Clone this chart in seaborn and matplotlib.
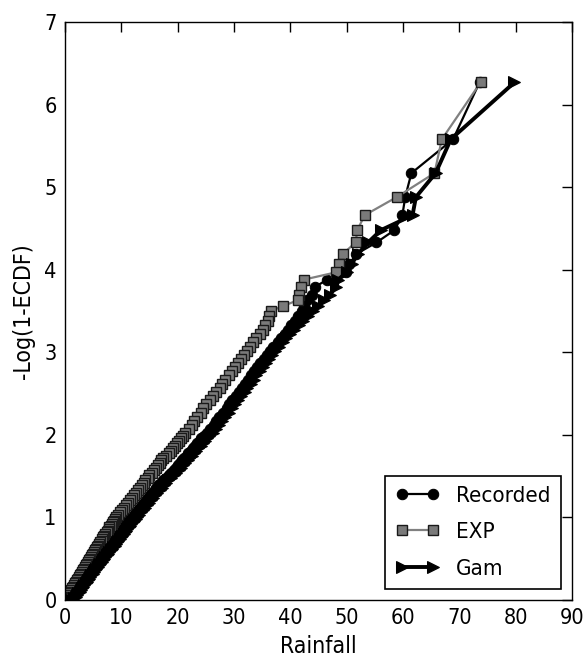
import matplotlib
matplotlib.use("Agg")
import matplotlib.pyplot as plt
import seaborn as sns
import pandas as pd

# ---- data (y = -log(1-ECDF), x = rainfall) ----
Y_LEVELS = [
    # upper tail
    6.27, 5.58, 5.17, 4.88, 4.66, 4.48, 4.33, 4.19, 4.07, 3.97,
    3.88, 3.79, 3.70, 3.63, 3.56, 3.50, 3.44, 3.38, 3.33, 3.27,
    # middle
    3.22, 3.17, 3.12, 3.07, 3.02, 2.97, 2.92, 2.87, 2.82, 2.77,
    2.72, 2.67, 2.62, 2.57, 2.52, 2.47, 2.42, 2.37, 2.32, 2.27,
    2.22, 2.17, 2.12, 2.07, 2.02,
    1.99, 1.96, 1.93, 1.90, 1.87, 1.84, 1.81, 1.78, 1.75, 1.72,
    1.69, 1.66, 1.63, 1.60, 1.57, 1.54, 1.51, 1.48, 1.45, 1.42,
    1.39, 1.36, 1.33, 1.30, 1.27, 1.24, 1.21, 1.18, 1.15, 1.12,
    1.09, 1.06, 1.03, 1.00,
    # dense lower part
    0.98, 0.96, 0.94, 0.92, 0.90, 0.88, 0.86, 0.84, 0.82, 0.80,
    0.78, 0.76, 0.74, 0.72, 0.70, 0.68, 0.66, 0.64, 0.62, 0.60,
    0.58, 0.56, 0.54, 0.52, 0.50, 0.48, 0.46, 0.44, 0.42, 0.40,
    0.38, 0.36, 0.34, 0.32, 0.30, 0.28, 0.26, 0.24, 0.22, 0.20,
    0.18, 0.16, 0.14, 0.12, 0.10, 0.08, 0.06, 0.04, 0.02, 0.00]

RECORDED = [
    73.6, 68.9, 61.5, 60.4, 59.9, 58.5, 55.3, 51.7, 50.5, 49.9,
    46.6, 44.3, 43.8, 43.0, 42.5, 42.0, 41.4, 40.8, 40.2, 39.6,
    39.0, 38.3, 37.8, 37.0, 36.4, 35.8, 35.3, 34.6, 34.1, 33.6,
    33.0, 32.5, 31.9, 31.4, 30.9, 30.3, 29.7, 29.2, 28.7, 28.1,
    27.4, 26.9, 26.4, 25.8, 25.2,
    24.6, 24.2, 23.9, 23.5, 23.1, 22.8, 22.3, 21.9, 21.6, 21.2,
    20.8, 20.4, 20.0, 19.7, 19.3, 18.8, 18.4, 17.9, 17.4, 17.0,
    16.6, 16.2, 15.9, 15.5, 15.1, 14.7, 14.4, 14.0, 13.6, 13.3,
    12.9, 12.6, 12.2, 11.9,
    11.6, 11.4, 11.1, 10.9, 10.6, 10.4, 10.2, 9.9, 9.7, 9.4,
    9.2, 9.0, 8.7, 8.5, 8.3, 8.1, 7.8, 7.6, 7.4, 7.2,
    6.9, 6.7, 6.5, 6.3, 6.1, 5.8, 5.6, 5.4, 5.2, 5.0,
    4.7, 4.5, 4.3, 4.1, 3.9, 3.6, 3.4, 3.2, 3.0, 2.8,
    2.6, 2.3, 2.1, 1.9, 1.7, 1.5, 1.2, 1.0, 0.7, 0.4]

EXP = [
    73.8, 66.9, 65.6, 58.9, 53.2, 51.9, 51.6, 49.3, 48.7, 48.2,
    42.4, 41.9, 41.6, 41.3, 38.7, 36.6, 36.3, 36.0, 35.5, 35.1,
    34.6, 34.0, 33.3, 32.9, 32.3, 31.7, 31.2, 30.8, 30.1, 29.6,
    29.2, 28.5, 27.9, 27.5, 26.8, 26.2, 25.8, 25.1, 24.5, 24.1,
    23.5, 22.9, 22.5, 22.0, 21.3,
    21.0, 20.6, 20.3, 19.9, 19.6, 19.2, 18.9, 18.4, 17.9, 17.4,
    17.1, 16.8, 16.5, 16.1, 15.8, 15.4, 15.0, 14.7, 14.3, 14.0,
    13.6, 13.3, 12.9, 12.6, 12.2, 11.9, 11.5, 11.2, 10.8, 10.5,
    10.1, 9.8, 9.4, 9.1,
    8.9, 8.7, 8.5, 8.3, 8.1, 7.9, 7.8, 7.6, 7.4, 7.2,
    7.0, 6.8, 6.6, 6.5, 6.3, 6.1, 5.9, 5.7, 5.5, 5.4,
    5.2, 5.0, 4.8, 4.6, 4.5, 4.3, 4.1, 3.9, 3.7, 3.6,
    3.4, 3.2, 3.0, 2.8, 2.7, 2.5, 2.3, 2.1, 1.9, 1.8,
    1.6, 1.4, 1.2, 1.0, 0.9, 0.7, 0.5, 0.3, 0.15, 0.02]

GAM = [
    79.8, 68.5, 65.8, 62.3, 61.7, 56.1, 53.8, 52.0, 50.9, 50.0,
    48.5, 48.2, 47.0, 46.0, 45.0, 44.0, 43.2, 42.3, 41.5, 40.6,
    39.9, 39.3, 38.7, 38.0, 37.3, 36.8, 36.2, 35.7, 35.1, 34.6,
    34.0, 33.5, 33.0, 32.4, 31.9, 31.3, 30.8, 30.2, 29.7, 29.1,
    28.5, 27.9, 27.4, 26.8, 26.2,
    25.6, 25.2, 24.8, 24.5, 24.1, 23.7, 23.3, 22.9, 22.5, 22.1,
    21.8, 21.4, 21.0, 20.6, 20.2, 19.8, 19.3, 18.8, 18.3, 17.9,
    17.5, 17.2, 16.8, 16.4, 16.0, 15.7, 15.3, 14.9, 14.6, 14.2,
    13.9, 13.5, 13.2, 12.8,
    12.6, 12.3, 12.1, 11.8, 11.6, 11.4, 11.1, 10.9, 10.6, 10.4,
    10.2, 9.9, 9.7, 9.5, 9.2, 9.0, 8.8, 8.5, 8.3, 8.1,
    7.9, 7.6, 7.4, 7.2, 7.0, 6.7, 6.5, 6.3, 6.1, 5.8,
    5.6, 5.4, 5.2, 5.0, 4.7, 4.5, 4.3, 4.1, 3.9, 3.7,
    3.4, 3.2, 3.0, 2.8, 2.6, 2.4, 2.1, 1.9, 1.6, 1.3]

X_TICKS = [0, 10, 20, 30, 40, 50, 60, 70, 80, 90]
Y_TICKS = [0, 1, 2, 3, 4, 5, 6, 7]

sns.set_style("white")
plt.rcParams["font.family"] = ["DejaVu Sans"]
plt.rcParams["font.stretch"] = "condensed"
plt.rcParams["text.color"] = "black"
plt.rcParams["axes.labelcolor"] = "black"
plt.rcParams["xtick.color"] = "black"
plt.rcParams["ytick.color"] = "black"

fig = plt.figure(figsize=(5.85, 6.68), dpi=100)
ax = fig.add_axes([0.111, 0.1018, 0.8667, 0.8652])

df_rec = pd.DataFrame({"x": RECORDED, "y": Y_LEVELS})
df_exp = pd.DataFrame({"x": EXP, "y": Y_LEVELS})
df_gam = pd.DataFrame({"x": GAM, "y": Y_LEVELS})

sns.lineplot(data=df_rec, x="x", y="y", sort=False, estimator=None, ax=ax,
             color="black", lw=1.6, marker="o", markersize=7.5,
             markeredgecolor="black", label="Recorded")
sns.lineplot(data=df_exp, x="x", y="y", sort=False, estimator=None, ax=ax,
             color="#808080", lw=1.6, marker="s", markersize=7.5,
             markerfacecolor="#7a7a7a", markeredgecolor="#1a1a1a",
             markeredgewidth=1.0, label="EXP")
sns.lineplot(data=df_gam, x="x", y="y", sort=False, estimator=None, ax=ax,
             color="black", lw=2.8, marker=">", markersize=8,
             markeredgecolor="black", label="Gam")

ax.set_xlim(0, 90)
ax.set_ylim(0, 7)
ax.set_xticks(X_TICKS)
ax.set_yticks(Y_TICKS)
ax.tick_params(direction="in", top=True, right=True, length=7, width=1,
               color="black", labelcolor="black", labelsize=15.5, pad=6)
for s in ax.spines.values():
    s.set_color("black")
    s.set_linewidth(1.0)
ax.grid(False)
ax.set_xlabel("Rainfall", fontsize=16.5, labelpad=5, color="black")
ax.set_ylabel("-Log(1-ECDF)", fontsize=16.5, labelpad=7, color="black")

leg = ax.legend(loc="lower right", numpoints=2, fontsize=16, fancybox=False,
                edgecolor="black", framealpha=1, borderaxespad=0.5,
                handlelength=2.0, labelspacing=0.75, borderpad=0.45,
                handletextpad=0.75)
leg.get_frame().set_linewidth(1.2)
for t in leg.get_texts():
    t.set_color("black")

fig.savefig("out.png", dpi=100)
